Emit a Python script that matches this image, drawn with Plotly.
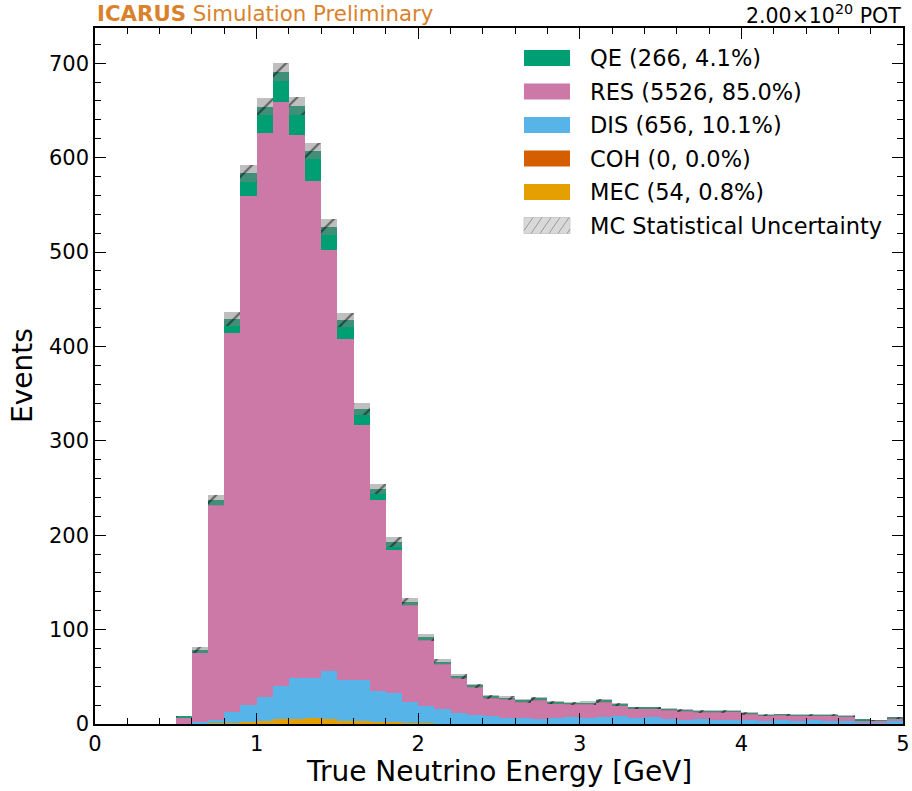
import numpy as np
import plotly.graph_objects as go

# Binning: 0-5 GeV in 0.1 GeV bins
bin_edges = [round(0.1 * i, 1) for i in range(51)]
bin_centers = [round(0.05 + 0.1 * i, 2) for i in range(50)]

# Events per bin for each interaction mode
mec = [0, 0, 0, 0, 0, 0, 0.5, 1, 1.5, 2, 3.5, 5, 5.5, 6, 5.5, 3.5, 3.5, 2, 2.5, 1,
       1, 0.5, 0.5, 0.3, 0.3, 0.3, 0.3, 0.3, 0.3, 0.3, 0.3, 0.3, 0, 0, 0, 0, 0, 0, 0, 0,
       0, 0, 0, 0, 0, 0, 0, 0, 0, 0]
coh = [0] * 50
dis = [0, 0, 0, 0, 0, 0, 2.0, 3.6, 11.2, 17.8, 24.7, 35.2, 43.2, 42.7, 50.6, 43.1, 43.1, 33.0, 30.3, 22.6,
       18.1, 15.4, 11.2, 9.2, 8.2, 6.1, 6.1, 5.0, 6.1, 6.8, 6.1, 6.8, 8.5, 6.4, 7.1, 5.3, 4.2, 5.3, 4.2, 4.2,
       4.2, 2.8, 4.2, 2.8, 4.2, 2.8, 2.8, 2.1, 2.1, 2.8]
res = [0, 0, 0, 0, 0, 7, 73, 227.4, 401.8, 539.5, 598.2, 618.8, 575.3, 526.8, 445.9, 360.9, 270.4, 202.3, 151.8, 102,
       70.7, 48.3, 37.9, 30.1, 20.0, 20.7, 17.6, 20.8, 15.8, 14.4, 15.4, 16.9, 11.6, 10.2, 9.5, 10.0, 9.7, 7.5, 8.6, 9.0,
       6.5, 6.0, 5.4, 6.0, 4.6, 6.0, 4.9, 2.1, 1.4, 3.4]
qe = [0, 0, 0, 0, 0, 1, 2.5, 5, 14.5, 24, 27.6, 31.7, 30.7, 31.5, 24.8, 20.5, 16.7, 11.7, 8.2, 4,
      2, 1.5, 1.2, 1, 0.4, 0.4, 0.4, 0.4, 0.4, 0.4, 0.4, 0.4, 0.4, 0.4, 0.4, 0.4, 0.4, 0.4, 0.4, 0.4,
      0.4, 0.4, 0.4, 0.4, 0.4, 0.4, 0.4, 0.4, 0.4, 0.4]

# MC statistical uncertainty (half-width) on the stacked total
stat_unc = [0, 0, 0, 0, 0, 1.0, 3.2, 5.6, 7.3, 8.7, 9.2, 9.5, 9.2, 8.9, 8.3, 7.5, 6.6, 5.7, 5.0, 4.1,
            3.5, 2.9, 2.6, 2.3, 1.9, 1.9, 1.8, 1.9, 1.7, 1.7, 1.7, 1.8, 1.6, 1.5, 1.5, 1.4, 1.4, 1.3, 1.3, 1.3,
            1.2, 1.1, 1.1, 1.1, 1.1, 1.1, 1.0, 0.8, 0.7, 0.9]

legend_order = ["QE", "RES", "DIS", "COH", "MEC"]
legend_labels = {
    "QE": "QE (266, 4.1%)",
    "RES": "RES (5526, 85.0%)",
    "DIS": "DIS (656, 10.1%)",
    "COH": "COH (0, 0.0%)",
    "MEC": "MEC (54, 0.8%)",
}
unc_label = "MC Statistical Uncertainty"
colors = {"QE": "#009E73", "RES": "#CC79A7", "DIS": "#56B4E9", "COH": "#D55E00", "MEC": "#E69F00"}

FONT = "DejaVu Sans"
W, H = 912, 791
ML, MR, MT, MB = 95, 9, 28, 67
PW, PH = W - ML - MR, H - MT - MB

fig = go.Figure()

# Stack from the bottom up: MEC, COH, DIS, RES, QE
stack = [("MEC", mec), ("COH", coh), ("DIS", dis), ("RES", res), ("QE", qe)]
for name, vals in stack:
    fig.add_trace(go.Bar(
        x=bin_centers, y=vals, width=0.1, name=legend_labels[name],
        marker=dict(color=colors[name], line=dict(width=0)),
        showlegend=False, hoverinfo="skip",
    ))

total = np.sum([mec, coh, dis, res, qe], axis=0)
unc = np.array(stat_unc)
mask = total > 0
fig.add_trace(go.Bar(
    x=np.array(bin_centers)[mask], y=(2 * unc)[mask], base=(total - unc)[mask], width=0.1,
    name=unc_label,
    marker=dict(color="rgba(128,128,128,0.5)", line=dict(width=0),
                pattern=dict(shape="/", fgcolor="black", size=16, solidity=0.13)),
    showlegend=False, hoverinfo="skip",
))

axis_common = dict(
    showline=True, linecolor="black", linewidth=1.5, mirror="allticks",
    ticks="inside", ticklen=11, tickwidth=1.2, tickcolor="black",
    showgrid=False, zeroline=False, automargin=False,
    tickfont=dict(family=FONT, size=21, color="black"),
)
fig.update_xaxes(range=[0, 5], dtick=1, tick0=0,
                 minor=dict(dtick=0.2, ticks="inside", ticklen=6, tickwidth=1, tickcolor="black"),
                 **axis_common)
fig.update_yaxes(range=[0, 737.3], dtick=100, tick0=0,
                 minor=dict(dtick=20, ticks="inside", ticklen=6, tickwidth=1, tickcolor="black"),
                 **axis_common)


def px_x(px):
    return (px - ML) / PW


def px_y(py):
    return (H - MB - py) / PH


# Legend drawn in the upper right: wide swatches followed by labels
shapes = []
annotations = []
sw_x0, sw_x1, sw_h = 524, 570, 16
text_x = 588
row_y0, row_dy = 58, 33.5
entries = [(legend_labels[k], colors[k]) for k in legend_order] + [(unc_label, None)]
for i, (label, col) in enumerate(entries):
    cy = row_y0 + i * row_dy
    y0, y1 = cy + sw_h / 2, cy - sw_h / 2
    if col is not None:
        shapes.append(dict(type="rect", xref="paper", yref="paper",
                           x0=px_x(sw_x0), x1=px_x(sw_x1), y0=px_y(y0), y1=px_y(y1),
                           fillcolor=col, line=dict(width=0)))
    else:
        shapes.append(dict(type="rect", xref="paper", yref="paper",
                           x0=px_x(sw_x0), x1=px_x(sw_x1), y0=px_y(y0), y1=px_y(y1),
                           fillcolor="#d9d9d9", line=dict(color="#c4c4c4", width=0.8)))
        # diagonal hatch lines clipped to the swatch
        step, slant = 9.0, 11.0
        start = sw_x0 - slant
        while start < sw_x1:
            xa, ya = start, y0
            xb, yb = start + slant, y1
            if xa < sw_x0:
                ya = y0 - (sw_x0 - xa) / slant * sw_h
                xa = sw_x0
            if xb > sw_x1:
                yb = y0 - (sw_x1 - start) / slant * sw_h
                xb = sw_x1
            if xb > xa:
                shapes.append(dict(type="line", xref="paper", yref="paper",
                                   x0=px_x(xa), y0=px_y(ya), x1=px_x(xb), y1=px_y(yb),
                                   line=dict(color="#9a9a9a", width=1)))
            start += step
    annotations.append(dict(text=label, xref="paper", yref="paper",
                            x=px_x(text_x), y=px_y(cy), xanchor="left", yanchor="middle",
                            showarrow=False, font=dict(family=FONT, size=22.5, color="black")))

annotations += [
    dict(text="<b>ICARUS</b> Simulation Preliminary", xref="paper", yref="paper",
         x=0, y=1, xanchor="left", yanchor="bottom", yshift=0, showarrow=False,
         font=dict(family=FONT, size=21.3, color="#D9822B")),
    dict(text="2.00×10<sup>20</sup> POT", xref="paper", yref="paper",
         x=1, y=1, xanchor="right", yanchor="bottom", yshift=-2, showarrow=False,
         font=dict(family=FONT, size=20.5, color="black")),
    dict(text="Events", xref="paper", yref="paper", x=px_x(22), y=0.5,
         xanchor="center", yanchor="middle", textangle=-90, showarrow=False,
         font=dict(family=FONT, size=28, color="black")),
    dict(text="True Neutrino Energy [GeV]", xref="paper", yref="paper", x=0.5, y=px_y(771),
         xanchor="center", yanchor="middle", showarrow=False,
         font=dict(family=FONT, size=28, color="black")),
]

fig.update_layout(
    width=W, height=H,
    margin=dict(l=ML, r=MR, t=MT, b=MB, autoexpand=False),
    plot_bgcolor="white", paper_bgcolor="white",
    barmode="stack", bargap=0,
    font=dict(family=FONT, color="black"),
    showlegend=False,
    shapes=shapes,
    annotations=annotations,
)

fig.write_html("out.html")
